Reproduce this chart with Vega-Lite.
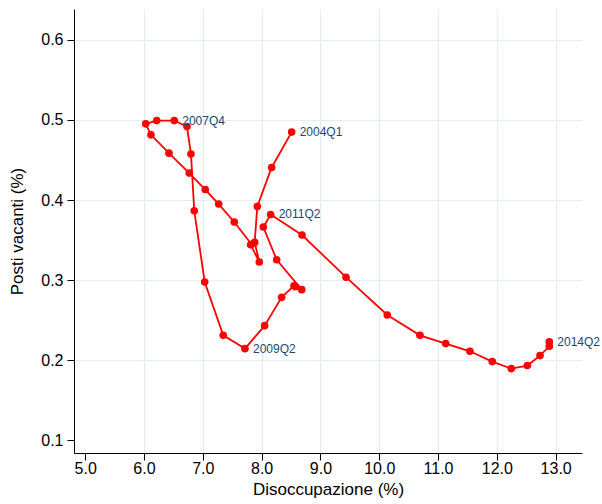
{
  "$schema": "https://vega.github.io/schema/vega-lite/v6.json",
  "width": 508,
  "height": 444,
  "autosize": "none",
  "padding": {"left": 74, "top": 9, "right": 20, "bottom": 51},
  "background": "white",
  "config": {
    "view": {"stroke": null},
    "font": "Liberation Sans",
    "axis": {
      "labelFont": "Liberation Sans",
      "titleFont": "Liberation Sans",
      "labelFontSize": 16,
      "titleFontSize": 17,
      "titleFontWeight": "normal",
      "labelColor": "#000000",
      "titleColor": "#000000",
      "domainColor": "#000000",
      "domainWidth": 1,
      "tickColor": "#000000",
      "tickWidth": 1,
      "tickSize": 7,
      "gridColor": "#e5edf0",
      "gridWidth": 1.2
    }
  },
  "data": {
    "values": [
      {"t": 0, "period": "2004Q1", "u": 8.511, "v": 0.4847, "label": "2004Q1"},
      {"t": 1, "period": "2004Q2", "u": 8.171, "v": 0.4406, "label": ""},
      {"t": 2, "period": "2004Q3", "u": 7.927, "v": 0.3920, "label": ""},
      {"t": 3, "period": "2004Q4", "u": 7.882, "v": 0.3471, "label": ""},
      {"t": 4, "period": "2005Q1", "u": 7.961, "v": 0.3227, "label": ""},
      {"t": 5, "period": "2005Q2", "u": 7.814, "v": 0.3442, "label": ""},
      {"t": 6, "period": "2005Q3", "u": 7.828, "v": 0.3449, "label": ""},
      {"t": 7, "period": "2005Q4", "u": 7.535, "v": 0.3725, "label": ""},
      {"t": 8, "period": "2006Q1", "u": 7.270, "v": 0.3950, "label": ""},
      {"t": 9, "period": "2006Q2", "u": 7.042, "v": 0.4131, "label": ""},
      {"t": 10, "period": "2006Q3", "u": 6.770, "v": 0.4336, "label": ""},
      {"t": 11, "period": "2006Q4", "u": 6.425, "v": 0.4585, "label": ""},
      {"t": 12, "period": "2007Q1", "u": 6.119, "v": 0.4813, "label": ""},
      {"t": 13, "period": "2007Q2", "u": 6.029, "v": 0.4950, "label": ""},
      {"t": 14, "period": "2007Q3", "u": 6.216, "v": 0.4991, "label": ""},
      {"t": 15, "period": "2007Q4", "u": 6.515, "v": 0.4991, "label": "2007Q4"},
      {"t": 16, "period": "2008Q1", "u": 6.731, "v": 0.4917, "label": ""},
      {"t": 17, "period": "2008Q2", "u": 6.799, "v": 0.4573, "label": ""},
      {"t": 18, "period": "2008Q3", "u": 6.855, "v": 0.3866, "label": ""},
      {"t": 19, "period": "2008Q4", "u": 7.032, "v": 0.2978, "label": ""},
      {"t": 20, "period": "2009Q1", "u": 7.348, "v": 0.2312, "label": ""},
      {"t": 21, "period": "2009Q2", "u": 7.717, "v": 0.2146, "label": "2009Q2"},
      {"t": 22, "period": "2009Q3", "u": 8.052, "v": 0.2433, "label": ""},
      {"t": 23, "period": "2009Q4", "u": 8.341, "v": 0.2786, "label": ""},
      {"t": 24, "period": "2010Q1", "u": 8.551, "v": 0.2931, "label": ""},
      {"t": 25, "period": "2010Q2", "u": 8.576, "v": 0.2919, "label": ""},
      {"t": 26, "period": "2010Q3", "u": 8.682, "v": 0.2882, "label": ""},
      {"t": 27, "period": "2010Q4", "u": 8.256, "v": 0.3255, "label": ""},
      {"t": 28, "period": "2011Q1", "u": 8.029, "v": 0.3663, "label": ""},
      {"t": 29, "period": "2011Q2", "u": 8.154, "v": 0.3820, "label": "2011Q2"},
      {"t": 30, "period": "2011Q3", "u": 8.687, "v": 0.3563, "label": ""},
      {"t": 31, "period": "2011Q4", "u": 9.435, "v": 0.3037, "label": ""},
      {"t": 32, "period": "2012Q1", "u": 10.137, "v": 0.2566, "label": ""},
      {"t": 33, "period": "2012Q2", "u": 10.693, "v": 0.2312, "label": ""},
      {"t": 34, "period": "2012Q3", "u": 11.130, "v": 0.2209, "label": ""},
      {"t": 35, "period": "2012Q4", "u": 11.543, "v": 0.2113, "label": ""},
      {"t": 36, "period": "2013Q1", "u": 11.922, "v": 0.1984, "label": ""},
      {"t": 37, "period": "2013Q2", "u": 12.246, "v": 0.1897, "label": ""},
      {"t": 38, "period": "2013Q3", "u": 12.518, "v": 0.1935, "label": ""},
      {"t": 39, "period": "2013Q4", "u": 12.734, "v": 0.2059, "label": ""},
      {"t": 40, "period": "2014Q1", "u": 12.892, "v": 0.2175, "label": ""},
      {"t": 41, "period": "2014Q2", "u": 12.892, "v": 0.2230, "label": "2014Q2"}
    ]
  },
  "encoding": {
    "x": {
      "field": "u",
      "type": "quantitative",
      "scale": {"domain": [4.81, 13.448], "nice": false, "zero": false},
      "axis": {
        "title": "Disoccupazione (%)",
        "values": [5, 6, 7, 8, 9, 10, 11, 12, 13],
        "format": ".1f",
        "labelPadding": 0,
        "titlePadding": 5,
        "gridOpacity": {"condition": {"test": "datum.value < 5.5", "value": 0}, "value": 1}
      }
    },
    "y": {
      "field": "v",
      "type": "quantitative",
      "scale": {"domain": [0.0844, 0.6383], "nice": false, "zero": false},
      "axis": {
        "title": "Posti vacanti (%)",
        "values": [0.1, 0.2, 0.3, 0.4, 0.5, 0.6],
        "format": ".1f",
        "labelPadding": 4,
        "titlePadding": 14,
        "gridOpacity": {"condition": {"test": "datum.value < 0.15", "value": 0}, "value": 1}
      }
    }
  },
  "layer": [
    {
      "mark": {"type": "line", "color": "#ff0000", "strokeWidth": 1.8},
      "encoding": {"order": {"field": "t", "type": "quantitative"}}
    },
    {
      "mark": {"type": "point", "filled": true, "color": "#ff0000", "size": 58, "opacity": 1}
    },
    {
      "transform": [{"filter": "datum.label != ''"}],
      "mark": {"type": "text", "align": "left", "baseline": "middle", "dx": 8, "fontSize": 12, "color": "#1a476f", "font": "Liberation Sans"},
      "encoding": {"text": {"field": "label"}}
    }
  ]
}
